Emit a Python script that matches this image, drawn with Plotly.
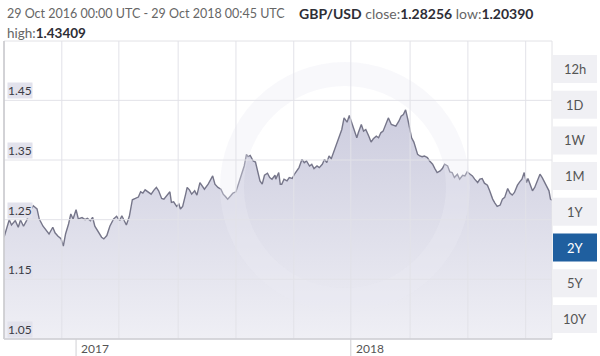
import pandas as pd
import plotly.graph_objects as go

# ---------------- data ----------------
START = "2016-10-29"
END = "2018-10-29 00:45"

day_offsets = [
    0, 4, 7, 10, 15, 19, 22, 26, 30, 36, 39, 44, 47, 52, 56, 60, 65, 68, 72, 76,
    79, 82, 86, 89, 92, 96, 99, 104, 108, 111, 115, 118, 121, 126, 130, 133, 137,
    141, 146, 150, 154, 157, 160, 163, 167, 171, 175, 179,
    182, 185, 188, 192, 196, 200, 203, 206, 210, 213, 218, 221, 223, 226, 230, 233,
    235, 238, 242, 244, 247, 250, 254, 257, 261, 264, 267, 272, 275, 278, 281, 285,
    289, 292, 295, 298, 302, 305, 309, 313, 316, 320, 323, 325, 328, 332, 335, 337,
    341, 344, 347, 351, 354, 357, 361,
    362, 366, 368, 370, 373, 377, 380, 384, 387, 390, 393, 397, 400, 403, 407, 410,
    413, 417, 420, 424, 427, 430, 433, 436, 439, 442, 445, 448, 450, 453, 457, 460,
    464, 467, 470, 472, 476, 479, 482, 486, 489, 492, 496, 499, 502, 505, 509, 512,
    516, 519, 522, 526, 529, 532, 535, 538, 541, 543,
    546, 548, 551, 554, 557, 560, 564, 567, 571, 574, 577, 581, 584, 587, 591, 594,
    597, 600, 604, 607, 611, 614, 617, 621, 624, 627, 631, 634, 637, 640, 644, 647,
    651, 654, 657, 661, 664, 667, 671, 674, 677, 680, 684, 687, 690, 693, 696, 698,
    702, 704, 707, 711, 714, 717, 720, 723, 726, 728, 730,
]

rates = [
    1.2206, 1.2389, 1.2500, 1.2410, 1.2484, 1.2373, 1.2495, 1.2390, 1.2484, 1.2667,
    1.2734, 1.2680, 1.2510, 1.2390, 1.2317, 1.2260, 1.2373, 1.2280, 1.2223, 1.2180,
    1.2056, 1.2260, 1.2428, 1.2595, 1.2512, 1.2667, 1.2512, 1.2534, 1.2500, 1.2523,
    1.2484, 1.2540, 1.2390, 1.2280, 1.2206, 1.2178, 1.2234, 1.2390, 1.2512, 1.2556,
    1.2484, 1.2567, 1.2500, 1.2410, 1.2556, 1.2834, 1.2856, 1.2880,
    1.2967, 1.2945, 1.3000, 1.2956, 1.2928, 1.3000, 1.3040, 1.2984, 1.2856, 1.2845,
    1.2911, 1.2967, 1.2790, 1.2800, 1.2722, 1.2760, 1.2678, 1.2722, 1.2928, 1.3040,
    1.3000, 1.2928, 1.2984, 1.2911, 1.3122, 1.3067, 1.3011, 1.3095, 1.3178, 1.3234,
    1.3095, 1.3040, 1.3011, 1.2928, 1.2889, 1.2845, 1.2900, 1.2945, 1.2967, 1.3122,
    1.3206, 1.3400, 1.3595, 1.3556, 1.3578, 1.3484, 1.3467, 1.3372, 1.3150, 1.3095,
    1.3245, 1.3278, 1.3206, 1.3178, 1.3245,
    1.3180, 1.3290, 1.3095, 1.3095, 1.3178, 1.3150, 1.3206, 1.3190, 1.3262, 1.3317,
    1.3373, 1.3512, 1.3456, 1.3484, 1.3400, 1.3428, 1.3356, 1.3400, 1.3373, 1.3428,
    1.3512, 1.3456, 1.3567, 1.3523, 1.3623, 1.3734, 1.3845, 1.3928, 1.4012, 1.4206,
    1.4134, 1.4245, 1.4095, 1.3984, 1.3873, 1.3956, 1.4095, 1.3984, 1.4012, 1.3900,
    1.3800, 1.3856, 1.3900, 1.3873, 1.3956, 1.3984, 1.4123, 1.4206, 1.4095, 1.4079,
    1.4068, 1.4150, 1.4234, 1.4262, 1.4341, 1.4179, 1.4012, 1.3873,
    1.3800, 1.3706, 1.3595, 1.3568, 1.3556, 1.3568, 1.3540, 1.3484, 1.3429, 1.3356,
    1.3290, 1.3318, 1.3356, 1.3429, 1.3401, 1.3301, 1.3290, 1.3206, 1.3262, 1.3179,
    1.3245, 1.3234, 1.3301, 1.3262, 1.3234, 1.3179, 1.3123, 1.3179, 1.3190, 1.3112,
    1.3079, 1.2984, 1.2845, 1.2779, 1.2723, 1.2745, 1.2845, 1.2873, 1.3023, 1.2945,
    1.2912, 1.2956, 1.3079, 1.3134, 1.3179, 1.3290, 1.3123, 1.3190, 1.3068, 1.2984,
    1.3040, 1.3179, 1.3262, 1.3206, 1.3123, 1.3040, 1.2984, 1.2845, 1.2826,
]

y_ticks = [1.05, 1.15, 1.25, 1.35, 1.45]
y_tick_labels = ["1.05", "1.15", "1.25", "1.35", "1.45"]
year_labels = ["2017", "2018"]
year_tick_days = [96, 462]
grid_days = [77, 153, 232, 309, 386, 462, 541, 618, 695]
buttons = ["12h", "1D", "1W", "1M", "1Y", "2Y", "5Y", "10Y"]
active_button = "2Y"

pair = "GBP/USD"
close_v, low_v, high_v = "1.28256", "1.20390", "1.43409"
period_text = "29 Oct 2016 00:00 UTC - 29 Oct 2018 00:45 UTC"

# ---------------- build ----------------
start = pd.Timestamp(START)
dates = start + pd.to_timedelta(day_offsets, unit="D")
grid_dates = start + pd.to_timedelta(grid_days, unit="D")
year_dates = start + pd.to_timedelta(year_tick_days, unit="D")

W, H = 600, 356
L, R, T, B = 4, 48, 41, 17
PW, PH = W - L - R, H - T - B
FONT = "Lato"


def px(x):
    return (x - L) / PW


def py(y):
    return (H - B - y) / PH


fig = go.Figure()
fig.add_trace(go.Scatter(
    x=dates, y=rates, mode="lines",
    line=dict(color="#76768a", width=1.4),
    fill="tozeroy",
    fillgradient=dict(type="vertical", start=1.05, stop=1.44,
                      colorscale=[[0, "rgb(239,239,245)"], [1, "rgb(204,204,222)"]]),
    hoverinfo="skip", showlegend=False,
))

shapes = []
# faint watermark ring
shapes.append(dict(type="circle", xref="paper", yref="paper",
                   x0=px(232), x1=px(458), y0=py(300), y1=py(74),
                   line=dict(color="rgba(236,236,243,0.35)", width=24), layer="above"))
# horizontal grid
for v in y_ticks:
    shapes.append(dict(type="line", xref="paper", yref="y", x0=0, x1=1, y0=v, y1=v,
                       line=dict(color="#e2e2e8", width=1), layer="above"))
# vertical grid
for d in grid_dates:
    shapes.append(dict(type="line", xref="x", yref="paper", x0=d, x1=d, y0=0, y1=1,
                       line=dict(color="#e2e2e8", width=1), layer="above"))
# plot frame
shapes.append(dict(type="rect", xref="paper", yref="paper", x0=0, x1=1, y0=0, y1=1,
                   line=dict(color="#e2e2e6", width=1), layer="above"))
shapes.append(dict(type="line", xref="paper", yref="paper", x0=0, x1=0, y0=0, y1=1,
                   line=dict(color="#c8c8cc", width=1.5), layer="above"))
shapes.append(dict(type="line", xref="paper", yref="paper", x0=0, x1=1, y0=0, y1=0,
                   line=dict(color="#cfcfd4", width=1.5), layer="above"))
# year ticks
for d in year_dates:
    shapes.append(dict(type="line", xref="x", yref="paper", x0=d, x1=d, y0=0, y1=py(356),
                       line=dict(color="#d0d0d4", width=1), layer="above"))

annotations = []
# y labels inside plot
for v, t in zip(y_ticks, y_tick_labels):
    annotations.append(dict(xref="paper", yref="y", x=px(7), y=v, xanchor="left",
                            yanchor="bottom", yshift=1, text=t, showarrow=False,
                            bgcolor="#e2e2ec", borderpad=0,
                            font=dict(family=FONT, size=12, color="#3a3a44")))
# year labels
for d, t in zip(year_dates, year_labels):
    annotations.append(dict(xref="x", yref="paper", x=d, y=py(348), xanchor="left",
                            yanchor="middle", xshift=3, text=t, showarrow=False,
                            font=dict(family=FONT, size=12, color="#555")))
# header
dark = "#2e2e36"
part_a = period_text
part_b = (f"<span style='color:{dark}'><b>{pair}</b></span> "
          f"close:<span style='color:{dark}'><b>{close_v}</b></span> "
          f"low:<span style='color:{dark}'><b>{low_v}</b></span>")
line2 = f"high:<span style='color:{dark}'><b>{high_v}</b></span>"
annotations.append(dict(xref="paper", yref="paper", x=px(5), y=py(14), xanchor="left",
                        yanchor="middle", text=part_a, showarrow=False,
                        font=dict(family=FONT, size=12.5, color="#666")))
annotations.append(dict(xref="paper", yref="paper", x=px(297), y=py(14), xanchor="left",
                        yanchor="middle", text=part_b, showarrow=False,
                        font=dict(family=FONT, size=14, color="#666")))
annotations.append(dict(xref="paper", yref="paper", x=px(5), y=py(33), xanchor="left",
                        yanchor="middle", text=line2, showarrow=False,
                        font=dict(family=FONT, size=13.5, color="#666")))

# range buttons
for i, b in enumerate(buttons):
    top = 55 + 35.7 * i
    bot = top + 28
    act = b == active_button
    shapes.append(dict(type="rect", xref="paper", yref="paper",
                       x0=px(553), x1=px(597), y0=py(bot), y1=py(top),
                       fillcolor="#1f5f9f" if act else "#f0f0f4",
                       line=dict(width=0), layer="above"))
    annotations.append(dict(xref="paper", yref="paper", x=px(575), y=py((top + bot) / 2),
                            xanchor="center", yanchor="middle", text=b, showarrow=False,
                            font=dict(family=FONT, size=13,
                                      color="#ffffff" if act else "#555")))

fig.update_layout(
    width=W, height=H,
    margin=dict(l=L, r=R, t=T, b=B, autoexpand=False),
    paper_bgcolor="white", plot_bgcolor="white",
    xaxis=dict(type="date", range=[START, END], showgrid=False, showticklabels=False,
               zeroline=False, showline=False, fixedrange=True),
    yaxis=dict(range=[1.05, 1.5495], showgrid=False, showticklabels=False,
               zeroline=False, showline=False, fixedrange=True),
    shapes=shapes, annotations=annotations,
    showlegend=False,
)

fig.write_html("out.html")
